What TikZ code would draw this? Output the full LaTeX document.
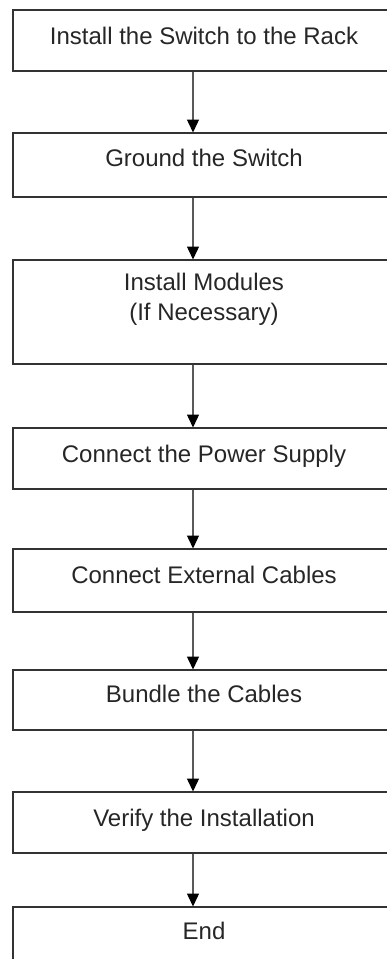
\documentclass[tikz,border=0pt]{standalone}
\usepackage{fontspec}
\setmainfont{Liberation Sans}
\usetikzlibrary{arrows.meta}
\begin{document}
\begin{tikzpicture}[x=1pt,y=-1pt,
  stepbox/.style={draw=black!80, line width=1.5pt, rectangle, inner sep=0pt,
    minimum width=384pt, anchor=north west},
  lbl/.style={inner sep=0pt, anchor=base, text=black!85,
    font=\fontsize{24}{30}\selectfont},
  arr/.style={draw=black!65, line width=1.4pt,
    -{Triangle[width=12pt,length=13pt,color=black]}, shorten >=-0.5pt}]
\useasboundingbox (0,0) rectangle (387,959);
\clip (0,0) rectangle (387,959);
\coordinate (ax) at (193,0);
% boxes
\node[stepbox, minimum height=61pt]  (b1) at (12,9)   {};
\node[stepbox, minimum height=64pt]  (b2) at (12,132) {};
\node[stepbox, minimum height=104pt] (b3) at (12,259) {};
\node[stepbox, minimum height=61pt]  (b4) at (12,427) {};
\node[stepbox, minimum height=63pt]  (b5) at (12,548) {};
\node[stepbox, minimum height=60pt]  (b6) at (12,669) {};
\node[stepbox, minimum height=61pt]  (b7) at (12,791) {};
\node[stepbox, minimum height=80pt]  (b8) at (12,906) {};
% labels
\node[lbl] (t1) at (204,44)  {Install the Switch to the Rack};
\node[lbl] (t2) at (204,166) {Ground the Switch};
\node[lbl] (t3) at (204,290) {\begin{tabular}[t]{@{}c@{}}Install Modules\\(If Necessary)\end{tabular}};
\node[lbl] (t4) at (204,462) {Connect the Power Supply};
\node[lbl] (t5) at (204,583) {Connect External Cables};
\node[lbl] (t6) at (204,702) {Bundle the Cables};
\node[lbl] (t7) at (204,826) {Verify the Installation};
\node[lbl] (t8) at (204,939) {End};
% connectors
\draw[arr] (b1.south -| ax) -- (b2.north -| ax);
\draw[arr] (b2.south -| ax) -- (b3.north -| ax);
\draw[arr] (b3.south -| ax) -- (b4.north -| ax);
\draw[arr] (b4.south -| ax) -- (b5.north -| ax);
\draw[arr] (b5.south -| ax) -- (b6.north -| ax);
\draw[arr] (b6.south -| ax) -- (b7.north -| ax);
\draw[arr] (b7.south -| ax) -- (b8.north -| ax);
\end{tikzpicture}
\end{document}
